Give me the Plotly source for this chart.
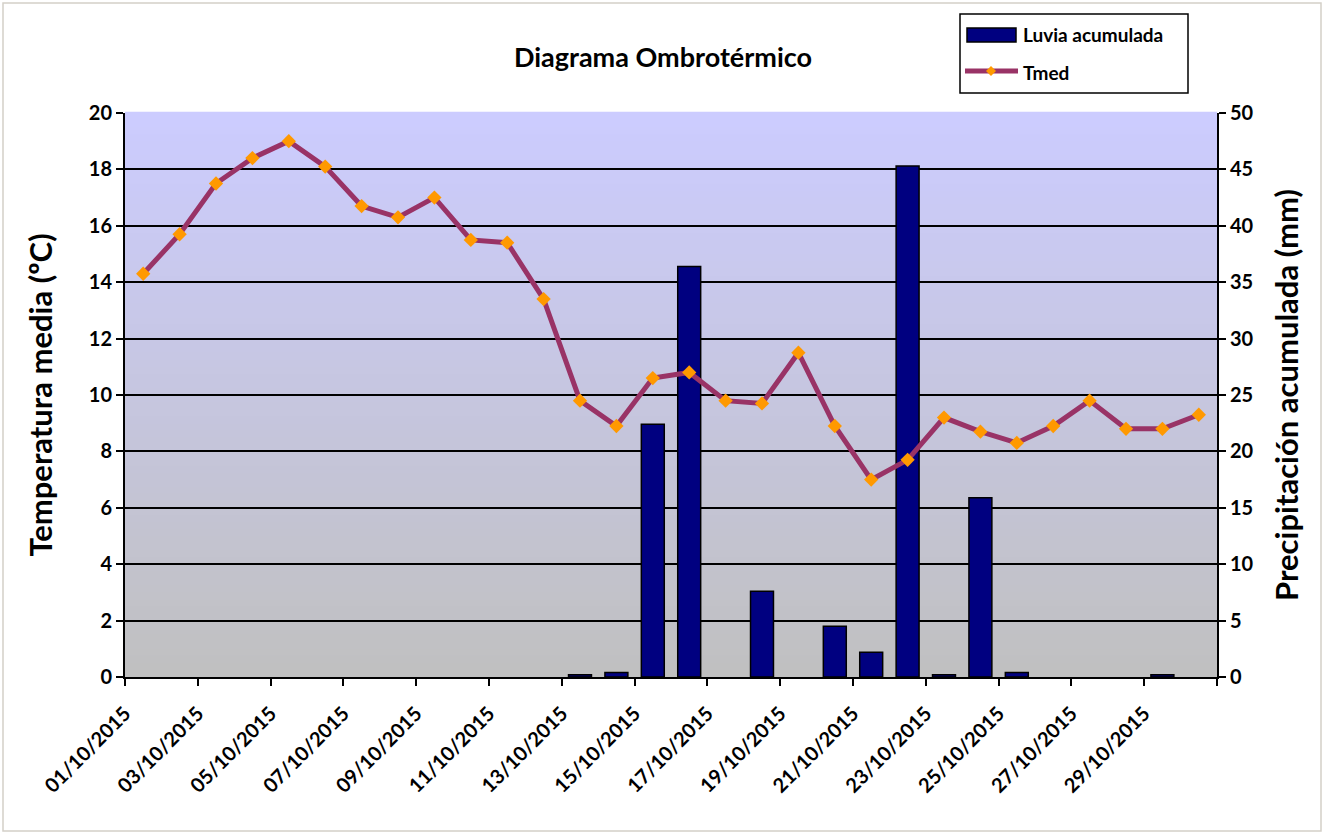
import plotly.graph_objects as go

# ---- data ----
dates = ["01/10/2015", "02/10/2015", "03/10/2015", "04/10/2015", "05/10/2015",
         "06/10/2015", "07/10/2015", "08/10/2015", "09/10/2015", "10/10/2015",
         "11/10/2015", "12/10/2015", "13/10/2015", "14/10/2015", "15/10/2015",
         "16/10/2015", "17/10/2015", "18/10/2015", "19/10/2015", "20/10/2015",
         "21/10/2015", "22/10/2015", "23/10/2015", "24/10/2015", "25/10/2015",
         "26/10/2015", "27/10/2015", "28/10/2015", "29/10/2015", "30/10/2015"]
tmed = [14.3, 15.7, 17.5, 18.4, 19.0, 18.1, 16.7, 16.3, 17.0, 15.5,
        15.4, 13.4, 9.8, 8.9, 10.6, 10.8, 9.8, 9.7, 11.5, 8.9,
        7.0, 7.7, 9.2, 8.7, 8.3, 8.9, 9.8, 8.8, 8.8, 9.3]
lluvia = [0, 0, 0, 0, 0, 0, 0, 0, 0, 0,
          0, 0, 0.2, 0.4, 22.4, 36.4, 0, 7.6, 0, 4.5,
          2.2, 45.3, 0.2, 15.9, 0.4, 0, 0, 0, 0.2, 0]
temp_ticks = list(range(0, 21, 2))
rain_ticks = list(range(0, 51, 5))
legend_names = ["Luvia acumulada", "Tmed"]

# category index positions (centre of each day slot)
xpos = [i + 0.5 for i in range(len(dates))]
tick_pos = list(range(0, len(dates) + 1, 2))
tick_txt = dates[::2] + [""] * (len(tick_pos) - len(dates[::2]))
# days without rain draw no bar
bar_y = [v if v > 0 else None for v in lluvia]

FONT = "Lato"
BAR_COLOR = "#000080"
LINE_COLOR = "#993366"
MARK_COLOR = "#FF9900"

# plot-area geometry in pixels (for placing decorations)
W, H = 1325, 835
L, R, T, B = 125, 1217, 113, 677


def px(xp):
    return (xp - L) / (R - L)


def py(yp):
    return (B - yp) / (B - T)


fig = go.Figure()
fig.add_trace(go.Bar(
    x=xpos, y=bar_y, name=legend_names[0], yaxis="y", width=0.63,
    marker=dict(color=BAR_COLOR, line=dict(color="black", width=1.5)),
))
fig.add_trace(go.Scatter(
    x=xpos, y=tmed, name=legend_names[1], yaxis="y2", mode="lines+markers",
    line=dict(color=LINE_COLOR, width=5),
    marker=dict(symbol="diamond", size=11, color=MARK_COLOR, line=dict(width=0)),
))

# gradient background bands
shapes = []
N = 80
top = (204, 204, 255)
bot = (192, 192, 192)
for k in range(N):
    t = (k + 0.5) / N
    c = tuple(round(bot[j] + (top[j] - bot[j]) * t) for j in range(3))
    shapes.append(dict(type="rect", xref="x domain", yref="y domain",
                       x0=0, x1=1, y0=k / N, y1=(k + 1) / N + 0.002,
                       fillcolor="rgb(%d,%d,%d)" % c, line=dict(width=0),
                       layer="below"))
# outer chart frame
shapes.append(dict(type="rect", xref="paper", yref="paper",
                   x0=px(3), x1=px(1321), y0=py(831), y1=py(3),
                   line=dict(color="#d4d0c8", width=1.5), fillcolor="rgba(0,0,0,0)",
                   layer="below"))

# manual legend (box, swatches)
shapes.append(dict(type="rect", xref="paper", yref="paper",
                   x0=px(960), x1=px(1188), y0=py(93), y1=py(14),
                   line=dict(color="black", width=1.5), fillcolor="white", layer="above"))
shapes.append(dict(type="rect", xref="paper", yref="paper",
                   x0=px(967), x1=px(1016), y0=py(42), y1=py(28),
                   line=dict(color="black", width=1.5), fillcolor=BAR_COLOR, layer="above"))
shapes.append(dict(type="line", xref="paper", yref="paper",
                   x0=px(965), x1=px(1018), y0=py(71), y1=py(71),
                   line=dict(color=LINE_COLOR, width=5), layer="above"))
d = 5
shapes.append(dict(type="path", xref="paper", yref="paper",
                   path="M %f,%f L %f,%f L %f,%f L %f,%f Z" % (
                       px(991 - d), py(71), px(991), py(71 - d),
                       px(991 + d), py(71), px(991), py(71 + d)),
                   fillcolor=MARK_COLOR, line=dict(width=0), layer="above"))

annotations = [
    dict(text=legend_names[0], xref="paper", yref="paper", x=px(1021), y=py(35),
         xanchor="left", yanchor="middle", showarrow=False,
         font=dict(family=FONT, size=19, weight="bold", color="black")),
    dict(text=legend_names[1], xref="paper", yref="paper", x=px(1021), y=py(73),
         xanchor="left", yanchor="middle", showarrow=False,
         font=dict(family=FONT, size=19, weight="bold", color="black")),
]

fig.update_layout(
    width=W, height=H,
    margin=dict(l=L, r=W - R, t=T, b=H - B),
    paper_bgcolor="white", plot_bgcolor="rgba(0,0,0,0)",
    font=dict(family=FONT, color="black", weight="bold"),
    title=dict(text="Diagrama Ombrotérmico", x=663 / W, xanchor="center",
               y=1 - 58 / H, yanchor="middle",
               font=dict(family=FONT, size=27, weight="bold", color="black")),
    showlegend=False,
    shapes=shapes,
    annotations=annotations,
    xaxis=dict(range=[0, len(dates)], tickmode="array", tickvals=tick_pos, ticktext=tick_txt,
               tickangle=-45, ticks="outside", ticklen=7, tickwidth=1.5, tickcolor="black",
               ticklabelstandoff=8,
               showline=True, linecolor="black", linewidth=2, showgrid=False, zeroline=False,
               tickfont=dict(family=FONT, size=20, weight="bold")),
    yaxis=dict(range=[0, 50], tickvals=rain_ticks, side="right",
               ticks="outside", ticklen=7, tickwidth=1.5, tickcolor="black",
               showline=True, linecolor="black", linewidth=2,
               showgrid=True, gridcolor="black", gridwidth=2, zeroline=False,
               tickfont=dict(family=FONT, size=20, weight="bold"),
               title=dict(text="Precipitación acumulada (mm)", standoff=24,
                          font=dict(family=FONT, size=31, weight="bold"))),
    yaxis2=dict(range=[0, 20], tickvals=temp_ticks, side="left", overlaying="y",
                ticks="outside", ticklen=7, tickwidth=1.5, tickcolor="black",
                showline=True, linecolor="black", linewidth=2,
                showgrid=False, zeroline=False,
                tickfont=dict(family=FONT, size=20, weight="bold"),
                title=dict(text="Temperatura media (ºC)", standoff=27,
                           font=dict(family=FONT, size=31, weight="bold"))),
)

fig.write_html("out.html", post_script="document.body.style.margin='0';",
               config={"displayModeBar": False})
